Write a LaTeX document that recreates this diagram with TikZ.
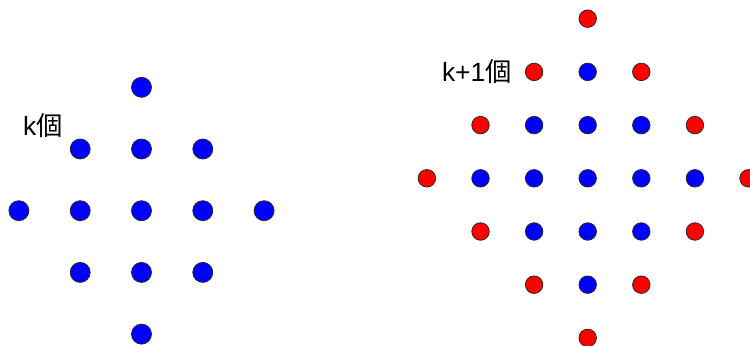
\documentclass[tikz,border=0pt]{standalone}
\usepackage{fontspec}
\setmainfont{Liberation Sans}
\newfontfamily\cjk{Noto Sans CJK JP}
\usetikzlibrary{positioning}

\begin{document}
\begin{tikzpicture}[x=0.02cm,y=-0.02cm,
  dotL/.style={circle,draw=black!85,line width=0.45pt,inner sep=0pt,minimum size=0.4cm,fill=blue},
  dotR/.style={circle,draw=black!85,line width=0.45pt,inner sep=0pt,minimum size=0.35cm},
  lbl/.style={font=\fontsize{15}{17}\selectfont,inner sep=0pt}]
\useasboundingbox (0,0) rectangle (750,345);
% k dots
\foreach \i in {-2,...,2}
  \foreach \j in {-2,...,2}{
    \pgfmathtruncatemacro\d{abs(\i)+abs(\j)}
    \ifnum\d<3
      \node[dotL] (a\i\j) at (141.5+61.3*\i,210.7+61.7*\j) {};
    \fi
  }
% k+1 dots, outer ring in red
\foreach \i in {-3,...,3}
  \foreach \j in {-3,...,3}{
    \pgfmathtruncatemacro\d{abs(\i)+abs(\j)}
    \ifnum\d<3
      \node[dotR,fill=blue] (b\i\j) at (587.7+53.6*\i,178.3+53.2*\j) {};
    \else\ifnum\d=3
      \node[dotR,fill=red] (b\i\j) at (587.7+53.6*\i,178.3+53.2*\j) {};
    \fi\fi
  }
\node[lbl] (lk) at (43,126) {k{\cjk 個}};
\node[lbl,left=0.26cm of b-1-2] (lk1) {k+1{\cjk 個}};
\end{tikzpicture}
\end{document}
